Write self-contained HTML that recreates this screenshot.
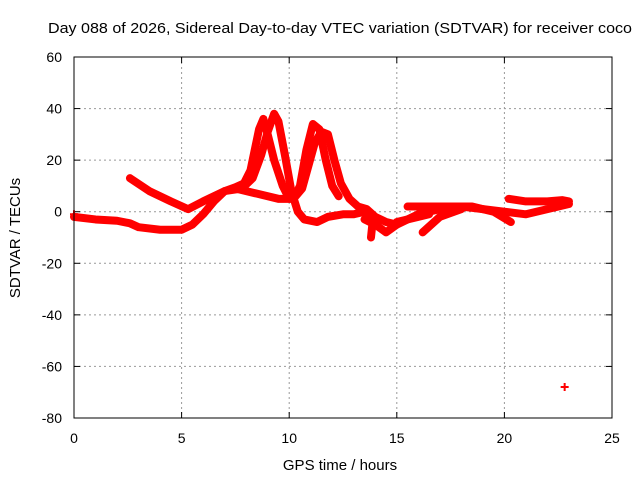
<!DOCTYPE html>
<html><head><meta charset="utf-8"><style>
html,body{margin:0;padding:0;background:#fff}
svg{display:block;font-family:"Liberation Sans",sans-serif}
</style></head><body>
<svg id="chart" width="640" height="480" viewBox="0 0 640 480">
<text x="340" y="33" font-size="15" text-anchor="middle" textLength="584" lengthAdjust="spacingAndGlyphs">Day 088 of 2026, Sidereal Day-to-day VTEC variation (SDTVAR) for receiver coco</text>
<text x="340" y="470" font-size="15" text-anchor="middle">GPS time / hours</text>
<text x="20" y="238" font-size="15" text-anchor="middle" transform="rotate(-90 20 238)">SDTVAR / TECUs</text>
<g id="grid"></g><g id="series"></g>
<rect x="74" y="57" width="538" height="361" fill="none" stroke="#000" stroke-width="1"/>
</svg>
<script>
const xTicks=[0,5,10,15,20,25];
const yTicks=[60,40,20,0,-20,-40,-60,-80];
const track1=[[0,-2],[1,-3],[2,-3.5],[2.6,-4.5],[3,-6],[4,-7],[5,-7],[5.5,-5],[6,-1],[6.5,4],[7,8],[7.5,9.5],[7.9,11],[8.2,16],[8.4,24],[8.6,32],[8.8,36],[9,30],[9.3,20],[9.7,10],[10,5],[10.3,6],[10.6,9],[10.9,18],[11.2,27],[11.5,31],[11.8,30],[12.1,20],[12.4,11],[12.8,5],[13.2,2],[13.6,1],[14,-2],[14.5,-4],[15,-5]];
const track2=[[2.6,13],[3.5,8],[4.5,4],[5.3,1],[6,4],[7,8],[7.8,9],[8.3,13],[8.7,22],[9,31],[9.3,38],[9.5,35],[9.8,22],[10.1,8],[10.4,0],[10.7,-3],[11.3,-4],[11.8,-2],[12.5,-1],[13,-1],[13.5,0],[13.9,-2],[13.8,-10]];
const track3=[[7.5,9],[8.5,7],[9.5,5],[10.2,5],[10.5,10],[10.8,24],[11.1,34],[11.4,32],[11.7,20],[12,10],[12.3,6]];
const track4=[[13.5,-3],[14,-5],[14.5,-8],[15,-5],[16,-1],[17,1],[18,2],[19,1],[20,0],[21,-1],[22,1],[23,3]];
const track5=[[15.5,2],[17,2],[18.5,2],[19.5,0],[20.3,-4]];
const track6=[[20.2,5],[21,4],[22,4],[22.7,4.5],[23,4]];
const track7=[[16.2,-8],[17,-2],[18,1]];
const track8=[[15,-4],[16,-2],[16.5,-1]];
const outliers=[[0,-1],[22.8,-68]];
const tracks=[track1,track2,track3,track4,track5,track6,track7,track8];
const X=h=>74+h*538/25, Y=v=>57+(60-v)*361/140;
const ns="http://www.w3.org/2000/svg";
const g=document.getElementById('grid'), s=document.getElementById('series');
function mk(tag,attrs,parent){const e=document.createElementNS(ns,tag);for(const k in attrs)e.setAttribute(k,attrs[k]);parent.appendChild(e);return e;}
xTicks.forEach(t=>{
  if(t>0&&t<25){const l=mk('line',{x1:X(t),x2:X(t),y1:57,y2:418,stroke:'#999','stroke-dasharray':'2,3'},g);
  
  }
  mk('line',{x1:X(t),x2:X(t),y1:418,y2:412,stroke:'#000'},g);
  mk('line',{x1:X(t),x2:X(t),y1:57,y2:63,stroke:'#000'},g);
  const tx=mk('text',{x:X(t),y:443,'font-size':14,'text-anchor':'middle'},g);tx.textContent=t;
  
  
});
yTicks.forEach(t=>{
  if(t<60&&t>-80){const l=mk('line',{x1:74,x2:612,y1:Y(t),y2:Y(t),stroke:'#999','stroke-dasharray':'2,3'},g);
  
  }
  mk('line',{x1:74,x2:80,y1:Y(t),y2:Y(t),stroke:'#000'},g);
  mk('line',{x1:606,x2:612,y1:Y(t),y2:Y(t),stroke:'#000'},g);
  const tx=mk('text',{x:62,y:Y(t)+5,'font-size':14,'text-anchor':'end'},g);tx.textContent=t;
  
  
});
tracks.forEach(tr=>{
  const p=mk('polyline',{points:tr.map(d=>X(d[0])+','+Y(d[1])).join(' '),fill:'none',stroke:'#f00','stroke-width':8,'stroke-linejoin':'round','stroke-linecap':'round'},s);
  
  
});
outliers.forEach(d=>{
  const p=mk('path',{d:`M${X(d[0])-4},${Y(d[1])}h8M${X(d[0])},${Y(d[1])-4}v8`,stroke:'#f00','stroke-width':2},s);
  
  
});
</script>
</body></html>
